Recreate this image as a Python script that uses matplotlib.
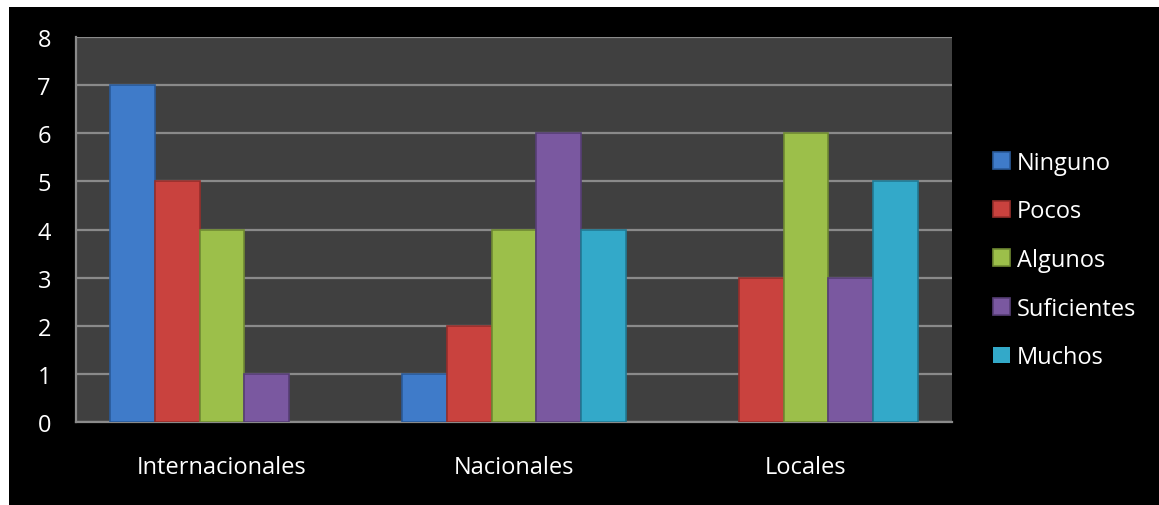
import numpy as np
import matplotlib
matplotlib.use("Agg")
from matplotlib import pyplot as plt
from matplotlib.patches import Rectangle

# Datos del gráfico
categorias = ["Internacionales", "Nacionales", "Locales"]
series = ["Ninguno", "Pocos", "Algunos", "Suficientes", "Muchos"]
ninguno = [7, 1, 0]
pocos = [5, 2, 3]
algunos = [4, 4, 6]
suficientes = [1, 6, 3]
muchos = [0, 4, 5]
valores = [ninguno, pocos, algunos, suficientes, muchos]

colores = ["#3f7bc9", "#c9423e", "#9cbf4a", "#7a58a0", "#33a9c9"]
bordes = ["#2a5a98", "#962e2b", "#6f8a32", "#563e75", "#217a93"]

plt.rcParams['font.family'] = ['Open Sans', 'DejaVu Sans']

fig = plt.figure(figsize=(11.59, 5.06), dpi=100)
fig.patch.set_facecolor("white")
# fondo negro del gráfico
fig.patches.append(Rectangle((9 / 1159, 0), 1 - 9 / 1159, 1 - 8 / 506,
                             transform=fig.transFigure, facecolor="black",
                             edgecolor="none", zorder=-10))

ax = fig.add_axes([76 / 1159, (506 - 423) / 506, 876 / 1159, 385 / 506])
ax.set_zorder(1)
ax.set_facecolor("#404040")

x = np.arange(len(categorias))
ancho = 0.154
for i, (nombre, vals) in enumerate(zip(series, valores)):
    desplazamiento = (i - 2) * ancho
    grosores = [1.2 if v > 0 else 0 for v in vals]
    ax.bar(x + desplazamiento, vals, ancho, color=colores[i],
           edgecolor=bordes[i], linewidth=grosores, label=nombre, zorder=3)

ax.set_xlim(-0.5, 2.5)
ax.set_ylim(0, 8)
ax.set_yticks(range(0, 9))
ax.set_xticks(x)
ax.set_xticklabels(categorias)
ax.yaxis.grid(True, color="#8a8a8a", linewidth=1.6, zorder=1)
ax.set_axisbelow(True)
ax.tick_params(axis="both", length=0, colors="white", labelsize=17)
ax.tick_params(axis="y", pad=18)
ax.tick_params(axis="x", pad=24)
for lado in ["top", "right"]:
    ax.spines[lado].set_visible(False)
for lado in ["left", "bottom"]:
    ax.spines[lado].set_color("#8a8a8a")
    ax.spines[lado].set_linewidth(1.6)

leg = fig.legend(loc="center left", bbox_to_anchor=(984 / 1159, 1 - 261 / 506),
                 frameon=False, fontsize=17, handlelength=0.7, handleheight=0.7,
                 handletextpad=0.3, labelspacing=1.04, borderaxespad=0)
for t in leg.get_texts():
    t.set_color("white")

fig.savefig("out.png", dpi=100, facecolor=fig.get_facecolor())
